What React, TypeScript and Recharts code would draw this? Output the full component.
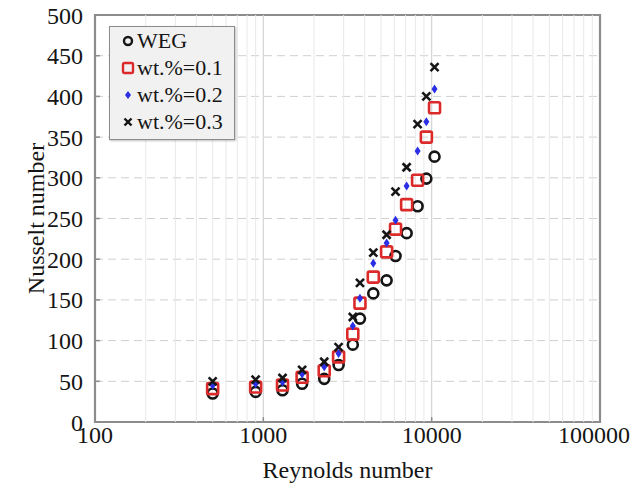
import React from 'react';
import {
  ScatterChart,
  Scatter,
  XAxis,
  YAxis,
  CartesianGrid,
  ReferenceLine,
  ReferenceArea,
  Legend,
} from 'recharts';

// Reynolds numbers shared by all four fluids
const reynolds = [500, 900, 1300, 1700, 2300, 2800, 3400, 3750, 4500, 5400, 6100, 7100, 8250, 9300, 10400];

// Nusselt number per fluid
const nuWEG = [35, 37, 39, 47, 53, 70, 95, 127, 158, 174, 204, 232, 265, 299, 326];
const nuWt01 = [41, 43, 45.5, 55, 63, 80, 108, 146, 178, 209, 237, 267, 297, 350, 386];
const nuWt02 = [45, 47, 49, 59, 68, 84, 118, 152, 195, 220, 248, 290, 333, 369, 409];
const nuWt03 = [50, 52, 54, 64, 74, 92, 129, 171, 208, 230, 283, 313, 366, 400, 436];

const seriesNames = ['WEG', 'wt.%=0.1', 'wt.%=0.2', 'wt.%=0.3'];

const xTicks = [100, 1000, 10000, 100000];
const yTicks = [0, 50, 100, 150, 200, 250, 300, 350, 400, 450, 500];
const majorRe = [1000, 10000];
const minorRe = [
  200, 300, 400, 500, 600, 700, 800, 900,
  2000, 3000, 4000, 5000, 6000, 7000, 8000, 9000,
  20000, 30000, 40000, 50000, 60000, 70000, 80000, 90000,
];

const FONT = "'Liberation Serif', 'Times New Roman', serif";
const RED = '#dc2a2a';
const BLUE = '#2a2ee6';
const INK = '#151515';
const FRAME = '#8c8c8c';

const toPoints = (ys: number[]) => reynolds.map((re, i) => ({ re, nu: ys[i] }));

const CircleMark = (p: any) => (
  <circle cx={p.cx} cy={p.cy} r={5} fill="none" stroke={INK} strokeWidth={2.6} />
);
const SquareMark = (p: any) => (
  <rect x={p.cx - 5.5} y={p.cy - 5.5} width={11} height={11} rx={1.5} fill="none" stroke={RED} strokeWidth={2.6} />
);
const DiamondMark = (p: any) => (
  <path
    d={`M${p.cx},${p.cy - 4.5} L${p.cx + 3},${p.cy} L${p.cx},${p.cy + 4.5} L${p.cx - 3},${p.cy} Z`}
    fill={BLUE}
  />
);
const CrossMark = (p: any) => (
  <g stroke={INK} strokeWidth={2.6} strokeLinecap="butt">
    <line x1={p.cx - 4} y1={p.cy - 4} x2={p.cx + 4} y2={p.cy + 4} />
    <line x1={p.cx - 4} y1={p.cy + 4} x2={p.cx + 4} y2={p.cy - 4} />
  </g>
);

const legendSymbols = [
  <circle cx={7} cy={7} r={4} fill="none" stroke={INK} strokeWidth={2.4} />,
  <rect x={2} y={2} width={10} height={10} rx={1.5} fill="none" stroke={RED} strokeWidth={2.4} />,
  <path d="M7,3 L10,7 L7,11 L4,7 Z" fill={BLUE} />,
  <g stroke={INK} strokeWidth={2.4}>
    <line x1={3.5} y1={3.5} x2={10.5} y2={10.5} />
    <line x1={3.5} y1={10.5} x2={10.5} y2={3.5} />
  </g>,
];

const LegendBox = () => (
  <div
    style={{
      width: 126,
      height: 114,
      boxSizing: 'border-box',
      border: `1.5px solid ${FRAME}`,
      background: '#f1f1f1',
      boxShadow: '1px 1px 2px rgba(0,0,0,0.25)',
      paddingTop: 0,
      fontFamily: FONT,
      fontSize: 22,
      color: INK,
    }}
  >
    {seriesNames.map((name, i) => (
      <div key={name} style={{ display: 'flex', alignItems: 'center', height: 27, paddingLeft: 11 }}>
        <svg width={14} height={14} style={{ marginRight: 2 }}>
          {legendSymbols[i]}
        </svg>
        <span style={{ lineHeight: '27px' }}>{name}</span>
      </div>
    ))}
  </div>
);

const tickStyle = { fontFamily: FONT, fontSize: 24, fill: INK };

export default function App() {
  return (
    <div style={{ position: 'absolute', left: 0, top: 0, background: '#fff' }}>
      <ScatterChart width={630} height={492} margin={{ top: 15, right: 30, bottom: 6, left: 33 }}>
        <CartesianGrid horizontal vertical={false} stroke="#cfcfcf" strokeDasharray="8 5" />
        <XAxis
          type="number"
          dataKey="re"
          scale="log"
          domain={[100, 100000]}
          ticks={xTicks}
          allowDataOverflow
          height={64}
          tickSize={0}
          tickMargin={4}
          axisLine={false}
          tickLine={false}
          tick={tickStyle}
          label={{ value: 'Reynolds number', position: 'insideBottom', offset: 8, style: tickStyle }}
        />
        <YAxis
          type="number"
          dataKey="nu"
          domain={[0, 500]}
          ticks={yTicks}
          width={62}
          tickSize={0}
          tickMargin={12}
          axisLine={false}
          tickLine={false}
          tick={tickStyle}
          label={{
            value: 'Nusselt number',
            angle: -90,
            position: 'insideLeft',
            offset: 2,
            style: { ...tickStyle, textAnchor: 'middle' },
          }}
        />
        {minorRe.map((v) => (
          <ReferenceLine key={`m${v}`} x={v} stroke="#e8e8e8" strokeWidth={1} />
        ))}
        {majorRe.map((v) => (
          <ReferenceLine key={`M${v}`} x={v} stroke="#d4d4d4" strokeWidth={1.2} />
        ))}
        {yTicks.slice(1, -1).map((v) => (
          <ReferenceLine
            key={`yt${v}`}
            segment={[{ x: 100, y: v }, { x: 107, y: v }]}
            stroke={FRAME}
            strokeWidth={1.5}
          />
        ))}
        {majorRe.map((v) => (
          <ReferenceLine
            key={`xt${v}`}
            segment={[{ x: v, y: 0 }, { x: v, y: 6 }]}
            stroke={FRAME}
            strokeWidth={1.5}
          />
        ))}
        <ReferenceArea x1={100} x2={100000} y1={0} y2={500} fill="none" stroke={FRAME} strokeWidth={2.2} />
        <Scatter name={seriesNames[0]} data={toPoints(nuWEG)} shape={CircleMark} isAnimationActive={false} />
        <Scatter name={seriesNames[1]} data={toPoints(nuWt01)} shape={SquareMark} isAnimationActive={false} />
        <Scatter name={seriesNames[2]} data={toPoints(nuWt02)} shape={DiamondMark} isAnimationActive={false} />
        <Scatter name={seriesNames[3]} data={toPoints(nuWt03)} shape={CrossMark} isAnimationActive={false} />
        <Legend
          layout="vertical"
          align="center"
          verticalAlign="middle"
          content={() => <LegendBox />}
          wrapperStyle={{ position: 'absolute', left: 109, top: 26, width: 'auto', height: 'auto' }}
        />
      </ScatterChart>
    </div>
  );
}
